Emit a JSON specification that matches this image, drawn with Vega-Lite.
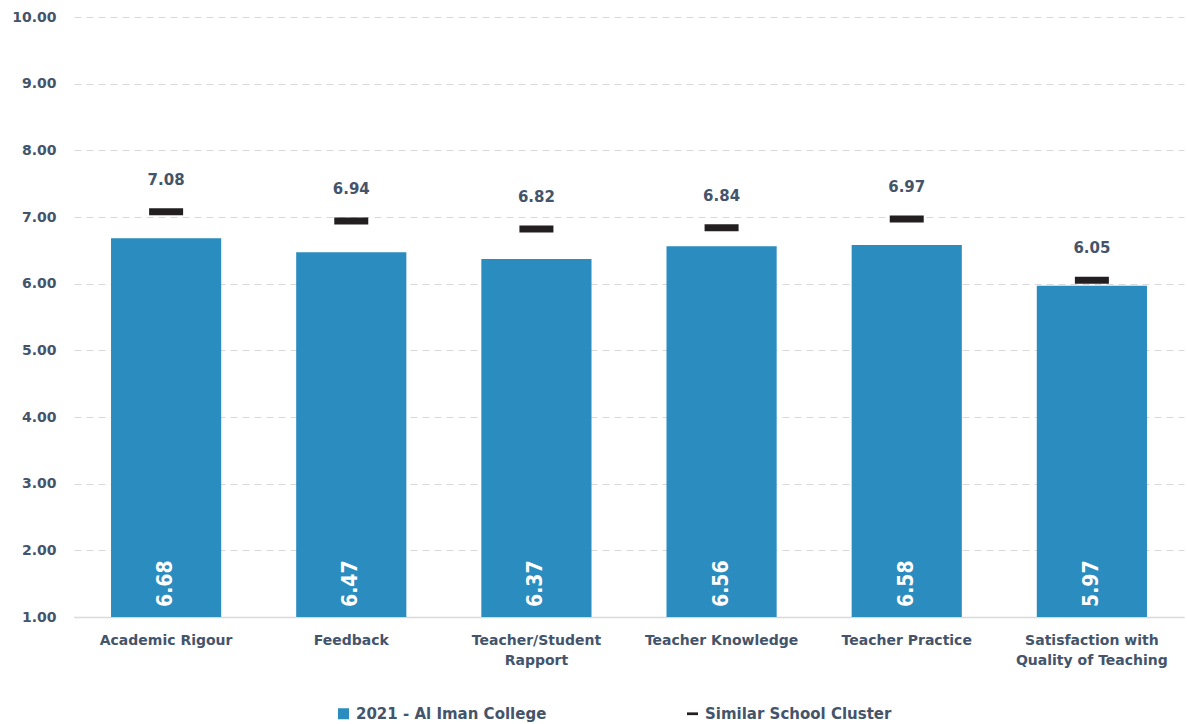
{
  "$schema": "https://vega.github.io/schema/vega-lite/v6.json",
  "width": 1110,
  "height": 600,
  "autosize": {"type": "none"},
  "padding": {"left": 74, "top": 17, "right": 3, "bottom": 107},
  "background": "white",
  "config": {"view": {"stroke": null}},
  "data": {
    "values": [
      {"category": "Academic Rigour", "school": 6.68, "cluster": 7.08},
      {"category": "Feedback", "school": 6.47, "cluster": 6.94},
      {"category": "Teacher/Student|Rapport", "school": 6.37, "cluster": 6.82},
      {"category": "Teacher Knowledge", "school": 6.56, "cluster": 6.84},
      {"category": "Teacher Practice", "school": 6.58, "cluster": 6.97},
      {"category": "Satisfaction with|Quality of Teaching", "school": 5.97, "cluster": 6.05}
    ]
  },
  "encoding": {
    "x": {
      "field": "category",
      "type": "nominal",
      "sort": null,
      "scale": {"paddingInner": 0.405, "paddingOuter": 0.2},
      "axis": {
        "title": null,
        "labelAngle": 0,
        "labelExpr": "split(datum.label, '|')",
        "labelFont": "DejaVu Sans",
        "labelFontWeight": "bold",
        "labelFontSize": 14,
        "labelColor": "#44546a",
        "labelLineHeight": 20,
        "labelPadding": 16,
        "labelLimit": 300,
        "ticks": false,
        "domain": true,
        "domainColor": "#d9d9d9",
        "domainWidth": 1.5,
        "grid": false
      }
    }
  },
  "layer": [
    {
      "mark": {"type": "bar", "color": "#2a8cbf"},
      "encoding": {
        "y": {
          "field": "school",
          "type": "quantitative",
          "scale": {"domain": [1, 10], "zero": false, "nice": false},
          "axis": {
            "title": null,
            "values": [1, 2, 3, 4, 5, 6, 7, 8, 9, 10],
            "format": ".2f",
            "labelFont": "DejaVu Sans",
            "labelFontWeight": "bold",
            "labelFontSize": 14,
            "labelColor": "#44546a",
            "labelPadding": 18,
            "ticks": false,
            "domain": false,
            "grid": true,
            "gridColor": "#d9d9d9",
            "gridDash": [7, 5],
            "gridWidth": 1
          }
        },
        "y2": {"datum": 1},
        "color": {
          "datum": "2021 - Al Iman College",
          "scale": {"domain": ["2021 - Al Iman College", "Similar School Cluster"], "range": ["#2a8cbf", "#231f20"]},
          "legend": {
            "title": null,
            "orient": "none",
            "legendX": 262,
            "legendY": 689,
            "direction": "horizontal",
            "columns": 2,
            "columnPadding": 138,
            "labelFont": "DejaVu Sans",
            "labelFontWeight": "bold",
            "labelFontSize": 15,
            "labelColor": "#44546a",
            "labelLimit": 400,
            "symbolSize": 121,
            "symbolOffset": 0,
            "labelOffset": 5,
            "symbolStrokeWidth": 0,
            "symbolOpacity": 1,
            "encode": {
              "symbols": {
                "update": {
                  "shape": {"signal": "datum.value == 'Similar School Cluster' ? 'M-1,-0.25H1V0.25H-1Z' : 'square'"},
                  "strokeWidth": {"value": 0},
                  "opacity": {"value": 1}
                }
              }
            }
          }
        }
      }
    },
    {
      "mark": {"type": "tick", "thickness": 7, "size": 34, "color": "#231f20", "opacity": 1},
      "encoding": {
        "y": {"field": "cluster", "type": "quantitative"},
        "color": {"datum": "Similar School Cluster"}
      }
    },
    {
      "mark": {"type": "text", "font": "DejaVu Sans", "fontWeight": "bold", "fontSize": 15, "color": "#44546a", "baseline": "middle", "dy": -32},
      "encoding": {
        "y": {"field": "cluster", "type": "quantitative"},
        "text": {"field": "cluster", "type": "quantitative", "format": ".2f"}
      }
    },
    {
      "mark": {"type": "text", "font": "DejaVu Sans Condensed", "fontWeight": "bold", "fontSize": 21, "color": "white", "angle": 270, "align": "left", "baseline": "middle", "dx": 10},
      "encoding": {
        "y": {"datum": 1},
        "text": {"field": "school", "type": "quantitative", "format": ".2f"}
      }
    }
  ]
}
